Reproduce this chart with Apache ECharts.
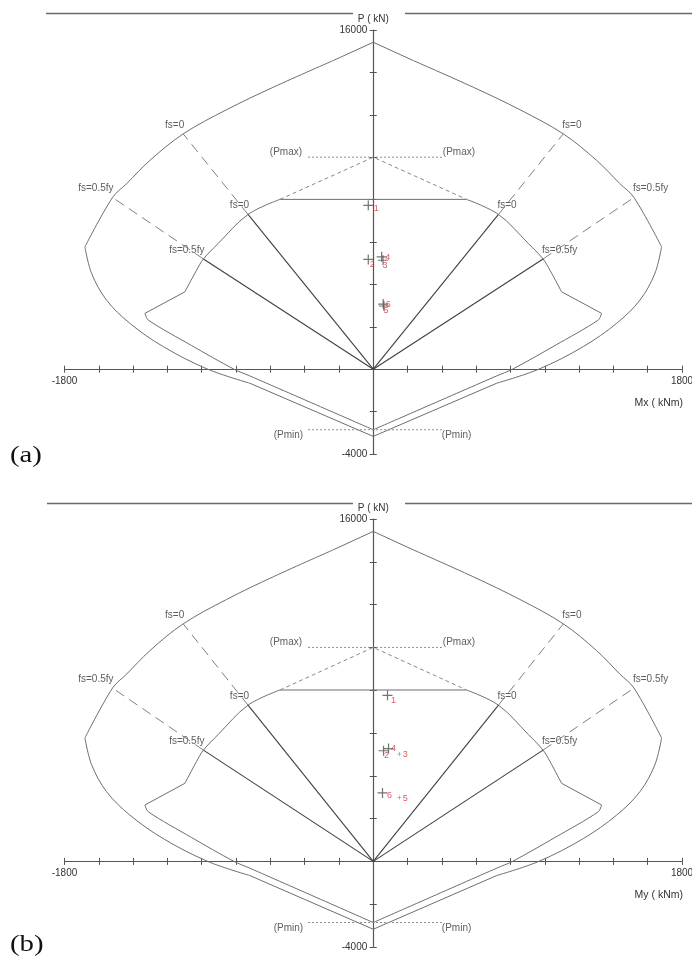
<!DOCTYPE html>
<html><head><meta charset="utf-8">
<script src="https://cdn.jsdelivr.net/npm/echarts@6/dist/echarts.min.js"></script>
<style>html,body{margin:0;padding:0;background:#fff}#c{width:692px;height:964px}</style>
</head><body><div id="c"></div>
<script>
// ---------------- data ----------------
const mRange = [-1800, 1800];
const pRange = [-4000, 16000];
const mTickStep = 200;
const pTickStep = 2000;
const xTickLabels = [-1800, 1800];
const yTickLabels = [-4000, 16000];
const panelTags = ['(a)', '(b)'];
const xAxisNames = ['Mx ( kNm)', 'My ( kNm)'];
const yAxisName = 'P ( kN)';

// nominal interaction curve (M kNm, P kN), apex -> bottom
const outerLeft = [
  [0,15420],[-233,14560],[-583,13300],[-855,12240],[-1108,11100],[-1302,9850],[-1438,8750],[-1520,8100],
  [-1681,5770],[-1642,4518],[-1555,3261],[-1419,2165],[-1224,1064],[-965,0],[-720,-660],[0,-3170]
];
const outerRight = [
  [0,15420],[233,14560],[583,13300],[855,12240],[1108,11100],[1302,9850],[1438,8750],[1520,8100],
  [1681,5770],[1642,4518],[1555,3261],[1419,2165],[1224,1064],[965,0],[720,-660],[0,-3170]
];
// design interaction curve, cap end -> bottom
const innerLeft = [
  [-544,8010],[-730,7300],[-904,5930],[-990,5200],[-1030,4670],[-1098,3650],[-1331,2635],[-1312,2320],
  [-1060,1120],[-812,0],[-720,-315],[0,-2856]
];
const innerRight = [
  [544,8010],[730,7300],[904,5930],[990,5200],[1030,4670],[1098,3650],[1331,2635],[1312,2320],
  [1060,1120],[812,0],[720,-315],[0,-2856]
];
const innerCap = [[-544,8010],[544,8010]];
const pmaxCurve = [[-544,8010],[0,10000],[544,8010]];
const pMaxLevel = 10000;
const pMinLevel = -2856;
const levelSpan = [-380, 400];

const fsZeroOuter = [[-1108,11100],[1108,11100]];
const fsZeroInner = [[-730,7300],[730,7300]];
const fsHalfOuter = [[-1520,8100],[1520,8100]];
const fsHalfInner = [[-990,5200],[990,5200]];
const fsZeroText = 'fs=0';
const fsHalfText = 'fs=0.5fy';
const pmaxText = '(Pmax)';
const pminText = '(Pmin)';

const loadIds = ['1','2','3','4','5','6'];
const loadsA = [[-29,7730],[-29,5180],[57,5140],[49,5300],[62,2980],[58,3070]];
const loadsB = [[83,7760],[60,5170],[152,5020],[89,5270],[152,2990],[54,3200]];

// ---------------- layout / style ----------------
const FONT = "'Liberation Sans', Arial, sans-serif";
const W = 617.5;
const grids = [
  {left:64.5, top:30, width:W, height:424},
  {left:64.5, top:519, width:W, height:428}
];
const zeroFrac = (0 - pRange[0]) / (pRange[1] - pRange[0]);
const loadStyles = [
  {off:[[8,3],[4,5],[2,5],[6,1],[2,4],[5,0]], size:[10,10,10,10,10,10]},
  {off:[[6,5],[3,5],[6,1],[5,0],[6,1],[7,3]], size:[10,10,4,10,4,10]}
];
const cross = 'path://M0,4.4H10V5.6H0Z M4.4,0H5.6V10H4.4Z';
// curve pieces: [from, to(exclusive), smooth]
const outerPieces = [[0,2,0],[1,9,0.35],[8,15,0.35],[14,16,0]];
const innerPieces = [[0,6,0.35],[5,7,0],[6,12,0.3]];

const xAxes = [], yAxes = [], series = [];
grids.forEach((g, p) => {
  const H = g.height;
  const axCol = '#555';
  xAxes.push({
    gridIndex:p, type:'value', min:mRange[0], max:mRange[1], interval:mTickStep,
    position:'bottom', offset:-H*zeroFrac,
    axisLine:{onZero:false, lineStyle:{color:axCol, width:1.2}},
    axisTick:{length:3.5, lineStyle:{color:axCol}},
    splitLine:{show:false},
    axisLabel:{margin:7, fontSize:10, color:'#333', fontFamily:FONT,
      formatter:v => xTickLabels.includes(v) ? String(v) : ''},
    name:xAxisNames[p], nameLocation:'end', nameGap:1,
    nameTextStyle:{align:'right', verticalAlign:'top', padding:[28,0,0,0], fontSize:10.5, color:'#333', fontFamily:FONT}
  });
  xAxes.push({
    gridIndex:p, type:'value', min:mRange[0], max:mRange[1], interval:mTickStep,
    position:'top', offset:-H*(1-zeroFrac),
    axisLine:{show:false, onZero:false}, axisTick:{length:3.5, lineStyle:{color:axCol}},
    axisLabel:{show:false}, splitLine:{show:false}
  });
  yAxes.push({
    gridIndex:p, type:'value', min:pRange[0], max:pRange[1], interval:pTickStep,
    position:'left', offset:-W/2,
    axisLine:{onZero:false, lineStyle:{color:axCol, width:1.2}},
    axisTick:{length:3.5, lineStyle:{color:axCol}},
    splitLine:{show:false},
    axisLabel:{margin:6, fontSize:10, color:'#333', fontFamily:FONT,
      formatter:v => yTickLabels.includes(v) ? String(v) : ''},
    name:yAxisName, nameLocation:'end', nameGap:6,
    nameTextStyle:{fontSize:10, color:'#333', fontFamily:FONT}
  });
  yAxes.push({
    gridIndex:p, type:'value', min:pRange[0], max:pRange[1], interval:pTickStep,
    position:'right', offset:-W/2,
    axisLine:{show:false, onZero:false}, axisTick:{length:3.5, lineStyle:{color:axCol}},
    axisLabel:{show:false}, splitLine:{show:false}
  });

  const xi = 2*p, yi = 2*p;
  const line = (data, ls, z, smooth) => ({type:'line', xAxisIndex:xi, yAxisIndex:yi, data, symbol:'none',
    showSymbol:false, lineStyle:ls, silent:true, animation:false, z:z||2, clip:false, smooth:smooth||false});
  const curveStyle = {color:'#6e6e6e', width:1};

  [outerLeft, outerRight].forEach(arr => outerPieces.forEach(([a, b, s]) =>
    series.push(line(arr.slice(a, b), curveStyle, 2, s))));
  [innerLeft, innerRight].forEach(arr => innerPieces.forEach(([a, b, s]) =>
    series.push(line(arr.slice(a, b), curveStyle, 2, s))));
  series.push(line(innerCap, curveStyle));
  series.push(line(pmaxCurve, {color:'#8a8a8a', width:1, type:[4,3]}));
  series.push(line([[levelSpan[0],pMaxLevel],[levelSpan[1],pMaxLevel]], {color:'#8a8a8a', width:1, type:[2,2]}));
  series.push(line([[levelSpan[0],pMinLevel],[levelSpan[1],pMinLevel]], {color:'#8a8a8a', width:1, type:[2,2]}));
  [fsZeroInner, fsHalfInner].forEach(arr => arr.forEach(pt => {
    series.push(line([[0,0], pt], {color:'#404040', width:1.1}, 3));
  }));
  [[fsZeroInner, fsZeroOuter],[fsHalfInner, fsHalfOuter]].forEach(([a, b]) => a.forEach((pt, i) => {
    series.push(line([pt, b[i]], {color:'#808080', width:1, type:[10,6]}, 3));
  }));

  // fs labels
  const fsItems = [];
  [[fsZeroOuter, fsZeroText],[fsZeroInner, fsZeroText],[fsHalfOuter, fsHalfText],[fsHalfInner, fsHalfText]]
    .forEach(([arr, txt]) => arr.forEach(pt => {
      const left = pt[0] < 0;
      fsItems.push({value:pt, name:txt, label:{position:left?'left':'right', offset:[left?1:-1, -9]}});
    }));
  series.push({type:'scatter', xAxisIndex:xi, yAxisIndex:yi, data:fsItems, symbolSize:0, silent:true, animation:false,
    label:{show:true, distance:0, formatter:'{b}', fontSize:10, color:'#333', fontFamily:FONT}});

  // Pmax / Pmin labels
  const lvItems = [
    {value:[levelSpan[0], pMaxLevel], name:pmaxText, label:{position:'left', distance:6, offset:[0,-5]}},
    {value:[levelSpan[1], pMaxLevel], name:pmaxText, label:{position:'right', distance:1, offset:[0,-5]}},
    {value:[levelSpan[0], pMinLevel], name:pminText, label:{position:'left', distance:5, offset:[0,6]}},
    {value:[levelSpan[1], pMinLevel], name:pminText, label:{position:'right', distance:0, offset:[0,6]}}
  ];
  series.push({type:'scatter', xAxisIndex:xi, yAxisIndex:yi, data:lvItems, symbolSize:0, silent:true, animation:false,
    label:{show:true, formatter:'{b}', fontSize:10, color:'#333', fontFamily:FONT}});

  // load points
  const loads = p === 0 ? loadsA : loadsB;
  const st = loadStyles[p];
  series.push({type:'scatter', xAxisIndex:xi, yAxisIndex:yi, symbol:cross, silent:true, animation:false, z:5,
    data: loads.map((v, i) => ({value:v, name:loadIds[i], symbolSize:st.size[i], label:{offset:st.off[i]}})),
    itemStyle:{color:'#505050'},
    label:{show:true, position:'inside', formatter:'{b}', fontSize:9, color:'#e0303a', fontFamily:FONT}});
});

const graphics = [];
const rules = [[13.5, 46], [503.5, 47]];
rules.forEach(([y, x0]) => {
  graphics.push({type:'line', shape:{x1:x0, y1:y, x2:353, y2:y}, style:{stroke:'#6a6a6a', lineWidth:1.5}, silent:true});
  graphics.push({type:'line', shape:{x1:405, y1:y, x2:692, y2:y}, style:{stroke:'#6a6a6a', lineWidth:1.5}, silent:true});
});
[[456, 0],[945, 1]].forEach(([y, i]) => {
  graphics.push({type:'text', x:10, y:y, style:{text:panelTags[i], font:"24px 'Liberation Serif', 'Times New Roman', serif",
    fill:'#111', verticalAlign:'middle', align:'left'}, scaleX:1.2, silent:true});
});

const chart = echarts.init(document.getElementById('c'));
chart.setOption({
  animation:false,
  backgroundColor:'#ffffff',
  grid: grids.map(g => Object.assign({containLabel:false, outerBoundsMode:'none'}, g)),
  xAxis:xAxes, yAxis:yAxes, series, graphic:graphics
});
</script></body></html>
